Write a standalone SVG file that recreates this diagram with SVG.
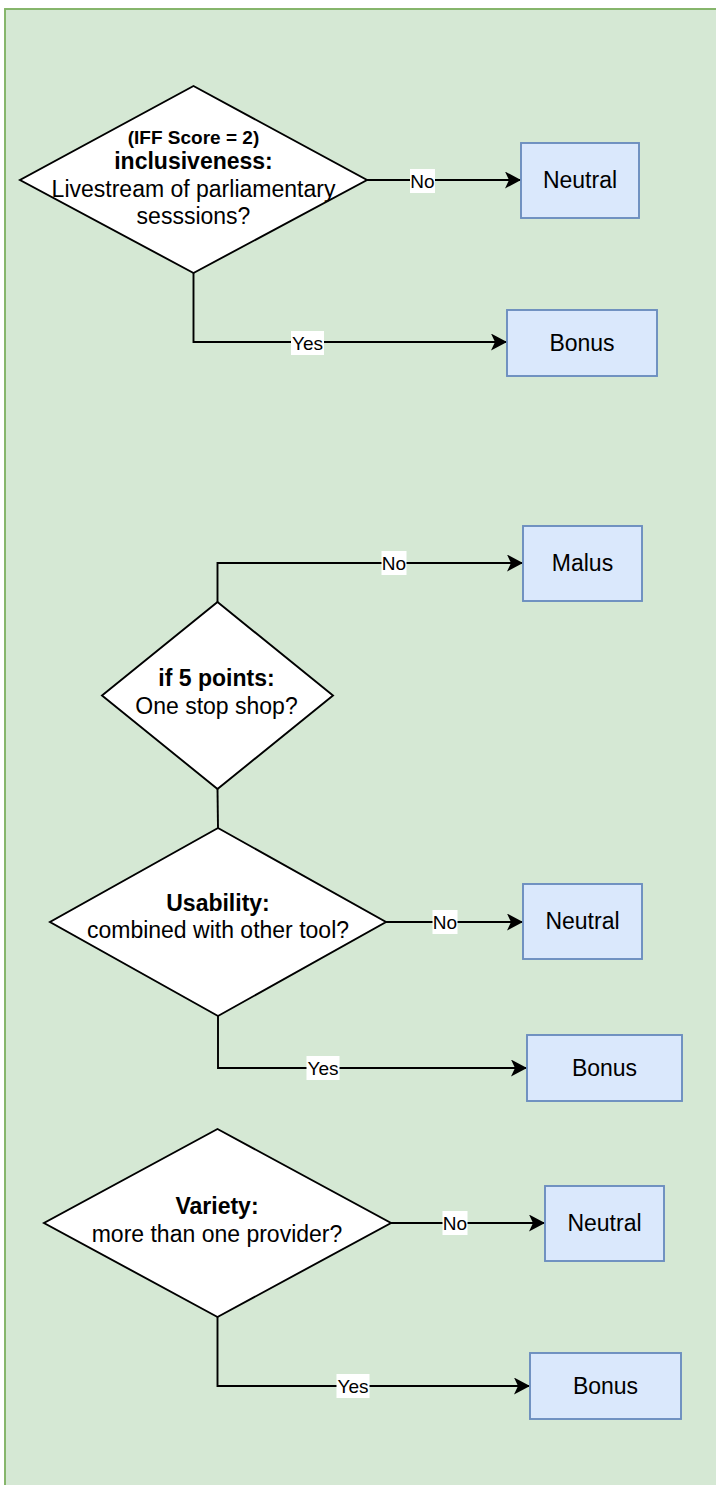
<svg xmlns="http://www.w3.org/2000/svg" width="716" height="1485" viewBox="0 0 716 1485">
  <style>
    text { font-family: "Liberation Sans", Arial, Helvetica, sans-serif; fill: #000000; text-anchor: middle; }
    .t { font-size: 23px; }
    .b { font-size: 23px; font-weight: bold; }
    .bs { font-size: 19px; font-weight: bold; }
    .lbl { font-size: 19px; }
    .dia { fill: #ffffff; stroke: #000000; stroke-width: 1.9; }
    .box { fill: #dae8fc; stroke: #6c8ebf; stroke-width: 1.9; }
    .edge { fill: none; stroke: #000000; stroke-width: 1.9; }
    .lb { fill: #ffffff; }
  </style>
  <defs>
    <marker id="arrow" markerUnits="userSpaceOnUse" markerWidth="18" markerHeight="18" refX="16" refY="8.5" orient="auto">
      <path d="M0,0 L16,8.5 L0,17 L4,8.5 Z" fill="#000000"/>
    </marker>
  </defs>

  <rect id="background" x="5" y="9" width="712" height="1490" fill="#d5e8d4" stroke="#82b366" stroke-width="1.9"/>

  <g id="connectors">
    <path class="edge" d="M367,180 H521" marker-end="url(#arrow)"/>
    <path class="edge" d="M193.5,273 V342 H507" marker-end="url(#arrow)"/>
    <path class="edge" d="M217.5,602 V563 H523" marker-end="url(#arrow)"/>
    <path class="edge" d="M217.5,789 L218,828"/>
    <path class="edge" d="M386,922 H523" marker-end="url(#arrow)"/>
    <path class="edge" d="M218,1016 V1068 H527" marker-end="url(#arrow)"/>
    <path class="edge" d="M391,1223 H545" marker-end="url(#arrow)"/>
    <path class="edge" d="M217.5,1317 V1386 H530" marker-end="url(#arrow)"/>

    <g id="label-d1-no"><rect class="lb" x="410" y="169" width="25" height="24"/><text class="lbl" x="422.5" y="187.5">No</text></g>
    <g id="label-d1-yes"><rect class="lb" x="291" y="331" width="33" height="24"/><text class="lbl" x="307.5" y="349.5">Yes</text></g>
    <g id="label-d2-no"><rect class="lb" x="381.5" y="551" width="25" height="24"/><text class="lbl" x="394" y="569.5">No</text></g>
    <g id="label-d3-no"><rect class="lb" x="432.5" y="910" width="25" height="24"/><text class="lbl" x="445" y="928.5">No</text></g>
    <g id="label-d3-yes"><rect class="lb" x="306.5" y="1056" width="33" height="24"/><text class="lbl" x="323" y="1074.5">Yes</text></g>
    <g id="label-d4-no"><rect class="lb" x="442.5" y="1211" width="25" height="24"/><text class="lbl" x="455" y="1229.5">No</text></g>
    <g id="label-d4-yes"><rect class="lb" x="336.5" y="1374" width="33" height="24"/><text class="lbl" x="353" y="1392.5">Yes</text></g>
  </g>

  <g id="d1">
    <polygon class="dia" points="193.5,86 367,180 193.5,273 20,180"/>
    <text class="bs" x="193.5" y="144">(IFF Score = 2)</text>
    <text class="b" x="193.5" y="169">inclusiveness:</text>
    <text class="t" x="193.5" y="197">Livestream of parliamentary</text>
    <text class="t" x="193.5" y="224">sesssions?</text>
  </g>
  <g id="neutral1">
    <rect class="box" x="521" y="143" width="118" height="75"/>
    <text class="t" x="580" y="188">Neutral</text>
  </g>
  <g id="bonus1">
    <rect class="box" x="507" y="310" width="150" height="66"/>
    <text class="t" x="582" y="351">Bonus</text>
  </g>

  <g id="d2">
    <polygon class="dia" points="217.5,602 333,695.5 217.5,789 102,695.5"/>
    <text class="b" x="216.5" y="686">if 5 points:</text>
    <text class="t" x="216.5" y="714">One stop shop?</text>
  </g>
  <g id="malus">
    <rect class="box" x="523" y="526" width="119" height="75"/>
    <text class="t" x="582.5" y="571">Malus</text>
  </g>

  <g id="d3">
    <polygon class="dia" points="218,828 386,922 218,1016 50,922"/>
    <text class="b" x="218" y="911">Usability:</text>
    <text class="t" x="218" y="938">combined with other tool?</text>
  </g>
  <g id="neutral2">
    <rect class="box" x="523" y="884" width="119" height="75"/>
    <text class="t" x="582.5" y="929">Neutral</text>
  </g>
  <g id="bonus2">
    <rect class="box" x="527" y="1035" width="155" height="66"/>
    <text class="t" x="604.5" y="1076">Bonus</text>
  </g>

  <g id="d4">
    <polygon class="dia" points="217.5,1129 391,1223 217.5,1317 44,1223"/>
    <text class="b" x="217" y="1214">Variety:</text>
    <text class="t" x="217" y="1242">more than one provider?</text>
  </g>
  <g id="neutral3">
    <rect class="box" x="545" y="1186" width="119" height="75"/>
    <text class="t" x="604.5" y="1231">Neutral</text>
  </g>
  <g id="bonus3">
    <rect class="box" x="530" y="1353" width="151" height="66"/>
    <text class="t" x="605.5" y="1394">Bonus</text>
  </g>
</svg>
